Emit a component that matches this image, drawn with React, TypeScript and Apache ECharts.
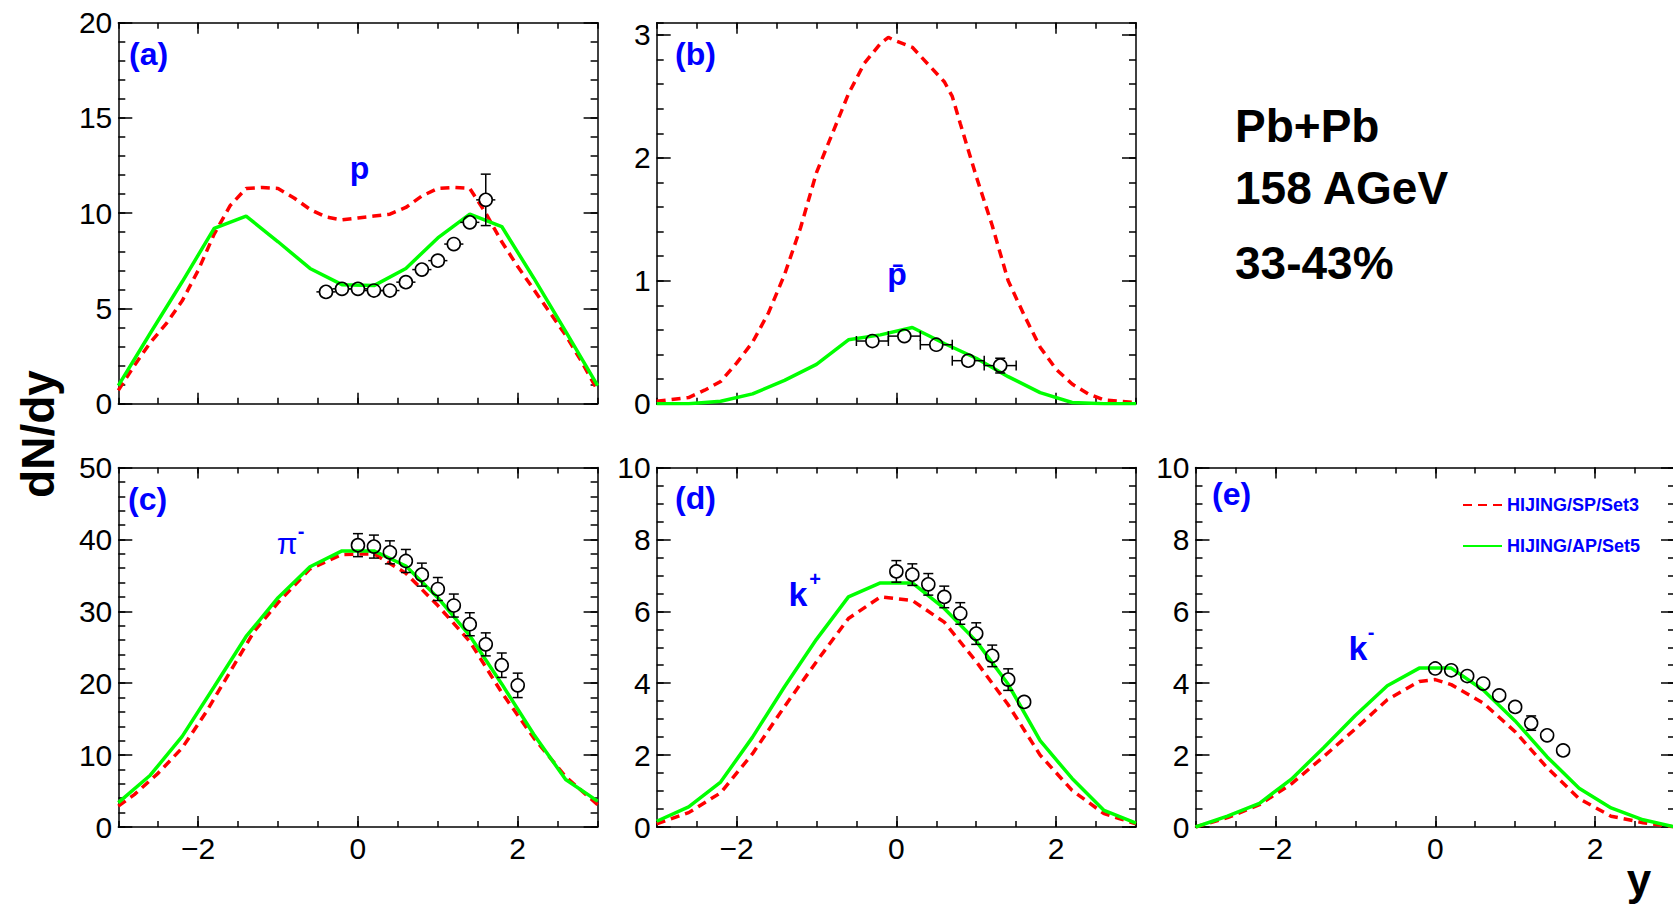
import { useEffect, useRef } from "react";
import * as echarts from "echarts";

type Pt = [number, number];

// ---------------- data ----------------
// rapidity axis tick labels (shared by all panels)
const rapidityTickLabels = [-2, 0, 2];

// (a) protons
const protonYTicks = [0, 5, 10, 15, 20];
const protonSP: Pt[] = [
  [-3, 0.7], [-2.8, 2.0], [-2.6, 3.2], [-2.4, 4.2], [-2.2, 5.4], [-2.0, 7.0], [-1.8, 8.9], [-1.6, 10.4],
  [-1.4, 11.3], [-1.2, 11.35], [-1.0, 11.3], [-0.8, 10.8], [-0.6, 10.2], [-0.4, 9.8], [-0.2, 9.65], [0, 9.75],
  [0.2, 9.85], [0.4, 9.95], [0.6, 10.3], [0.8, 10.9], [1.0, 11.3], [1.2, 11.35], [1.4, 11.3], [1.6, 10.0],
  [1.8, 8.5], [2.0, 7.2], [2.2, 6.0], [2.4, 4.8], [2.6, 3.6], [2.8, 2.2], [3.0, 0.7],
];
const protonAP: Pt[] = [
  [-3, 0.95], [-2.6, 3.7], [-2.2, 6.4], [-1.8, 9.2], [-1.4, 9.85], [-1.0, 8.5], [-0.6, 7.1], [-0.2, 6.25],
  [0.2, 6.2], [0.6, 7.1], [1.0, 8.7], [1.4, 9.95], [1.8, 9.3], [2.2, 6.6], [2.6, 3.8], [3.0, 0.95],
];
const protonRapidity = [-0.4, -0.2, 0, 0.2, 0.4, 0.6, 0.8, 1.0, 1.2, 1.4, 1.6];
const protonDNdy = [5.87, 6.03, 6.03, 5.94, 5.94, 6.38, 7.04, 7.51, 8.38, 9.52, 10.7];
const protonErrY = [0.15, 0.15, 0.15, 0.15, 0.15, 0.15, 0.15, 0.15, 0.2, 0.2, 1.35];
const protonErrX = [0.12, 0.12, 0.12, 0.12, 0.12, 0.12, 0.12, 0.12, 0.12, 0.12, 0.12];

// (b) antiprotons
const antiprotonYTicks = [0, 1, 2, 3];
const antiprotonSP: Pt[] = [
  [-3, 0.02], [-2.6, 0.05], [-2.4, 0.11], [-2.2, 0.18], [-2.0, 0.33], [-1.8, 0.5], [-1.6, 0.74], [-1.4, 1.05],
  [-1.2, 1.43], [-1.0, 1.88], [-0.8, 2.2], [-0.6, 2.52], [-0.4, 2.77], [-0.2, 2.93], [-0.1, 2.98], [0, 2.95],
  [0.2, 2.9], [0.4, 2.76], [0.6, 2.62], [0.7, 2.5], [0.8, 2.28], [1.0, 1.85], [1.2, 1.45], [1.4, 1.0],
  [1.6, 0.72], [1.8, 0.46], [2.0, 0.28], [2.2, 0.16], [2.4, 0.08], [2.6, 0.03], [2.8, 0.02], [3.0, 0.01],
];
const antiprotonAP: Pt[] = [
  [-3, 0], [-2.6, 0.0], [-2.2, 0.02], [-1.8, 0.08], [-1.4, 0.19], [-1.0, 0.32], [-0.6, 0.52], [-0.2, 0.56],
  [0.2, 0.62], [0.6, 0.49], [1.0, 0.37], [1.4, 0.22], [1.8, 0.09], [2.2, 0.01], [2.6, 0], [3.0, 0],
];
const antiprotonRapidity = [-0.3, 0.1, 0.5, 0.9, 1.3];
const antiprotonDNdy = [0.51, 0.55, 0.48, 0.35, 0.31];
const antiprotonErrY = [0.02, 0.02, 0.02, 0.02, 0.06];
const antiprotonErrX = [0.2, 0.2, 0.2, 0.2, 0.2];

// (c) negative pions
const pionYTicks = [0, 10, 20, 30, 40, 50];
const pionSP: Pt[] = [
  [-3, 2.9], [-2.8, 4.5], [-2.5, 7.5], [-2.2, 11.0], [-1.9, 16.0], [-1.6, 21.6], [-1.3, 27.2], [-1.0, 31.2],
  [-0.6, 35.9], [-0.2, 37.9], [0.2, 38.0], [0.6, 35.3], [1.0, 30.8], [1.4, 25.8], [1.8, 18.7], [2.2, 12.4],
  [2.6, 7.0], [3.0, 3.1],
];
const pionAP: Pt[] = [
  [-3, 3.4], [-2.6, 7.2], [-2.2, 12.6], [-1.8, 19.5], [-1.4, 26.5], [-1.0, 31.9], [-0.6, 36.2], [-0.2, 38.4],
  [0.2, 38.4], [0.6, 36.3], [1.0, 31.9], [1.4, 26.6], [1.8, 19.9], [2.2, 12.9], [2.6, 6.6], [3.0, 3.6],
];
const pionRapidity = [0, 0.2, 0.4, 0.6, 0.8, 1.0, 1.2, 1.4, 1.6, 1.8, 2.0];
const pionDNdy = [39.2, 39.0, 38.2, 37.0, 35.1, 33.1, 30.8, 28.2, 25.4, 22.5, 19.7];
const pionErrY = [1.6, 1.6, 1.6, 1.6, 1.6, 1.6, 1.6, 1.6, 1.6, 1.7, 1.7];
const pionErrX = [0, 0, 0, 0, 0, 0, 0, 0, 0, 0, 0];

// (d) positive kaons
const kaonPlusYTicks = [0, 2, 4, 6, 8, 10];
const kaonPlusSP: Pt[] = [
  [-3, 0.09], [-2.6, 0.4], [-2.2, 0.95], [-1.8, 2.04], [-1.4, 3.35], [-1.0, 4.6], [-0.6, 5.8], [-0.2, 6.4],
  [0.2, 6.3], [0.6, 5.7], [1.0, 4.6], [1.4, 3.4], [1.8, 2.0], [2.2, 1.02], [2.6, 0.37], [2.8, 0.23], [3.0, 0.09],
];
const kaonPlusAP: Pt[] = [
  [-3, 0.16], [-2.6, 0.56], [-2.2, 1.25], [-1.8, 2.5], [-1.4, 3.9], [-1.0, 5.22], [-0.6, 6.4], [-0.2, 6.79],
  [0.2, 6.79], [0.6, 6.08], [1.0, 5.17], [1.4, 3.97], [1.8, 2.4], [2.2, 1.35], [2.6, 0.46], [3.0, 0.11],
];
const kaonPlusRapidity = [0, 0.2, 0.4, 0.6, 0.8, 1.0, 1.2, 1.4, 1.6];
const kaonPlusDNdy = [7.11, 7.02, 6.75, 6.4, 5.94, 5.38, 4.76, 4.1, 3.48];
const kaonPlusErrY = [0.3, 0.3, 0.3, 0.3, 0.3, 0.3, 0.3, 0.3, 0.12];
const kaonPlusErrX = [0, 0, 0, 0, 0, 0, 0, 0, 0];

// (e) negative kaons
const kaonMinusYTicks = [0, 2, 4, 6, 8, 10];
const kaonMinusSP: Pt[] = [
  [-3, 0], [-2.6, 0.26], [-2.2, 0.62], [-1.8, 1.2], [-1.4, 1.95], [-1.0, 2.73], [-0.6, 3.54], [-0.2, 4.05],
  [0, 4.1], [0.2, 3.96], [0.6, 3.45], [1.0, 2.65], [1.4, 1.65], [1.8, 0.79], [2.2, 0.3], [2.6, 0.12], [3.0, 0],
];
const kaonMinusAP: Pt[] = [
  [-3, 0], [-2.6, 0.3], [-2.2, 0.66], [-1.8, 1.33], [-1.4, 2.2], [-1.0, 3.1], [-0.6, 3.93], [-0.2, 4.42],
  [0.2, 4.42], [0.6, 3.81], [1.0, 2.95], [1.4, 1.95], [1.8, 1.08], [2.2, 0.53], [2.6, 0.2], [3.0, 0],
];
const kaonMinusRapidity = [0, 0.2, 0.4, 0.6, 0.8, 1.0, 1.2, 1.4, 1.6];
const kaonMinusDNdy = [4.41, 4.36, 4.2, 3.99, 3.66, 3.34, 2.89, 2.55, 2.13];
const kaonMinusErrY = [0.08, 0.08, 0.08, 0.08, 0.08, 0.08, 0.2, 0.08, 0.08];
const kaonMinusErrX = [0, 0, 0, 0, 0, 0, 0, 0, 0];

const seriesNames = ["HIJING/SP/Set3", "HIJING/AP/Set5"];

const panels = [
  { sp: protonSP, ap: protonAP, rap: protonRapidity, val: protonDNdy, ey: protonErrY, ex: protonErrX, yMax: 20, yTicks: protonYTicks, yMinor: 1, xLabels: false },
  { sp: antiprotonSP, ap: antiprotonAP, rap: antiprotonRapidity, val: antiprotonDNdy, ey: antiprotonErrY, ex: antiprotonErrX, yMax: 3.1, yTicks: antiprotonYTicks, yMinor: 0.2, xLabels: false },
  { sp: pionSP, ap: pionAP, rap: pionRapidity, val: pionDNdy, ey: pionErrY, ex: pionErrX, yMax: 50, yTicks: pionYTicks, yMinor: 2, xLabels: true },
  { sp: kaonPlusSP, ap: kaonPlusAP, rap: kaonPlusRapidity, val: kaonPlusDNdy, ey: kaonPlusErrY, ex: kaonPlusErrX, yMax: 10, yTicks: kaonPlusYTicks, yMinor: 0.5, xLabels: true },
  { sp: kaonMinusSP, ap: kaonMinusAP, rap: kaonMinusRapidity, val: kaonMinusDNdy, ey: kaonMinusErrY, ex: kaonMinusErrX, yMax: 10, yTicks: kaonMinusYTicks, yMinor: 0.5, xLabels: true },
];

// ---------------- layout / style ----------------
const gridBoxes = [
  { left: 118.3, top: 22.7, width: 479.3, height: 381 },
  { left: 656.7, top: 22.7, width: 479.3, height: 381 },
  { left: 118.3, top: 467.5, width: 479.3, height: 359.5 },
  { left: 656.7, top: 467.5, width: 479.3, height: 359.5 },
  { left: 1195.5, top: 467.5, width: 479.5, height: 359.5 },
];

const FONT = "'Liberation Sans', Arial, Helvetica, sans-serif";
const BLUE = "#0000ff";
const RED = "#ff0000";
const GREEN = "#00ff00";
const frameLine = { color: "#000", width: 1.5 };
const R_MARK = 6.5;
const CAP = 5;

const fmtMinus = (v: number) => (v < 0 ? "\u2212" + Math.abs(v) : String(v));

function renderErrors(_params: any, api: any) {
  const x = api.value(0);
  const y = api.value(1);
  const ey = api.value(2);
  const ex = api.value(3);
  const c = api.coord([x, y]);
  const style = { stroke: "#000", lineWidth: 1.5, fill: "none" };
  const kids: any[] = [];
  const seg = (x1: number, y1: number, x2: number, y2: number) =>
    kids.push({ type: "line", shape: { x1, y1, x2, y2 }, style });
  if (ey > 0) {
    const t = api.coord([x, y + ey])[1];
    const b = api.coord([x, y - ey])[1];
    if (c[1] - t > R_MARK) {
      seg(c[0], c[1] - R_MARK, c[0], t);
      seg(c[0] - CAP, t, c[0] + CAP, t);
    }
    if (b - c[1] > R_MARK) {
      seg(c[0], c[1] + R_MARK, c[0], b);
      seg(c[0] - CAP, b, c[0] + CAP, b);
    }
  }
  if (ex > 0) {
    const l = api.coord([x - ex, y])[0];
    const r = api.coord([x + ex, y])[0];
    if (c[0] - l > R_MARK) {
      seg(c[0] - R_MARK, c[1], l, c[1]);
      if (c[0] - l > R_MARK + 4) seg(l, c[1] - CAP, l, c[1] + CAP);
    }
    if (r - c[0] > R_MARK) {
      seg(c[0] + R_MARK, c[1], r, c[1]);
      if (r - c[0] > R_MARK + 4) seg(r, c[1] - CAP, r, c[1] + CAP);
    }
  }
  return { type: "group", children: kids };
}

function txt(text: string, x: number, y: number, size: number, opts: any = {}) {
  const align = opts.align || "left";
  return {
    type: "text",
    x,
    y,
    rotation: opts.rotation || 0,
    silent: true,
    z: 100,
    style: {
      text,
      fill: opts.color || BLUE,
      fontSize: size,
      fontWeight: opts.weight || "bold",
      fontFamily: FONT,
      align,
      textAlign: align,
      verticalAlign: "middle",
      textVerticalAlign: "middle",
    },
  };
}

function buildOption() {
  const grid = gridBoxes.map((b) => ({ ...b, show: false, containLabel: false, outerBoundsMode: "none" }));
  const xAxis: any[] = [];
  const yAxis: any[] = [];
  const series: any[] = [];
  const labelFont = { fontSize: 30, color: "#000", fontFamily: FONT };

  panels.forEach((p, i) => {
    const common = { type: "value", gridIndex: i, splitLine: { show: false }, axisPointer: { show: false }, silent: true };
    const xc = { ...common, min: -3, max: 3 };
    const majorX = { show: true, inside: true, length: 11, customValues: rapidityTickLabels, lineStyle: frameLine };
    const minorX = { show: true, inside: true, length: 6, lineStyle: frameLine };
    xAxis.push(
      {
        ...xc, position: "bottom",
        axisLine: { show: true, onZero: false, lineStyle: frameLine },
        axisTick: majorX,
        axisLabel: { show: p.xLabels, customValues: rapidityTickLabels, margin: 6, formatter: fmtMinus, ...labelFont },
      },
      { ...xc, position: "bottom", interval: 0.5, axisLine: { show: false, onZero: false }, axisTick: minorX, axisLabel: { show: false } },
      { ...xc, position: "top", axisLine: { show: true, onZero: false, lineStyle: frameLine }, axisTick: majorX, axisLabel: { show: false } },
      { ...xc, position: "top", interval: 0.5, axisLine: { show: false, onZero: false }, axisTick: minorX, axisLabel: { show: false } },
    );
    const yc = { ...common, min: 0, max: p.yMax };
    const majorY = { show: true, inside: true, length: 14, customValues: p.yTicks, lineStyle: frameLine };
    const minorY = { show: true, inside: true, length: 7, lineStyle: frameLine };
    yAxis.push(
      {
        ...yc, position: "left",
        axisLine: { show: true, onZero: false, lineStyle: frameLine },
        axisTick: majorY,
        axisLabel: { show: true, customValues: p.yTicks, margin: 6, ...labelFont },
      },
      { ...yc, position: "left", interval: p.yMinor, axisLine: { show: false, onZero: false }, axisTick: minorY, axisLabel: { show: false } },
      { ...yc, position: "right", axisLine: { show: true, onZero: false, lineStyle: frameLine }, axisTick: majorY, axisLabel: { show: false } },
      { ...yc, position: "right", interval: p.yMinor, axisLine: { show: false, onZero: false }, axisTick: minorY, axisLabel: { show: false } },
    );
    const ax = { xAxisIndex: 4 * i, yAxisIndex: 4 * i };
    series.push(
      {
        type: "line", name: seriesNames[0], ...ax, data: p.sp, symbol: "none", showSymbol: false, z: 2,
        lineStyle: { color: RED, width: 3.5, type: [9, 6] }, itemStyle: { color: RED },
      },
      {
        type: "line", name: seriesNames[1], ...ax, data: p.ap, symbol: "none", showSymbol: false, z: 3,
        lineStyle: { color: GREEN, width: 3.5, type: "solid" }, itemStyle: { color: GREEN },
      },
      {
        type: "scatter", name: "data" + i, ...ax, z: 5, symbol: "circle", symbolSize: 2 * R_MARK,
        data: p.rap.map((x, k) => [x, p.val[k]]),
        itemStyle: { color: "rgba(255,255,255,0)", borderColor: "#000", borderWidth: 1.6, opacity: 1 },
      },
      {
        type: "custom", name: "err" + i, ...ax, z: 5, renderItem: renderErrors,
        encode: { x: 0, y: 1 },
        data: p.rap.map((x, k) => [x, p.val[k], p.ey[k], p.ex[k]]),
      },
    );
  });

  const graphic = [
    txt("(a)", 129, 54, 32),
    txt("(b)", 675, 54, 32),
    txt("(c)", 128, 499, 32),
    txt("(d)", 675, 498, 32),
    txt("(e)", 1212, 494, 32),
    txt("p", 359.5, 168, 32, { align: "center" }),
    txt("p\u0304", 897, 274, 32, { align: "center" }),
    txt("\u03c0", 287, 543, 30, { align: "center", weight: "normal" }),
    txt("-", 301, 531, 20, { align: "center", weight: "bold" }),
    txt("k", 798, 594, 34, { align: "center" }),
    txt("+", 815, 579, 20, { align: "center" }),
    txt("k", 1358, 648, 34, { align: "center" }),
    txt("-", 1371, 632, 20, { align: "center" }),
    txt("Pb+Pb", 1235, 126, 46, { color: "#000" }),
    txt("158 AGeV", 1235, 188, 46, { color: "#000" }),
    txt("33-43%", 1235, 263, 46, { color: "#000" }),
    txt("dN/dy", 38, 434, 46, { color: "#000", align: "center", rotation: Math.PI / 2 }),
    txt("y", 1639, 879, 44, { color: "#000", align: "center" }),
  ];

  return {
    animation: false,
    backgroundColor: "#fff",
    grid,
    xAxis,
    yAxis,
    series,
    legend: {
      show: true,
      orient: "vertical",
      left: 1462,
      top: 495,
      padding: 0,
      itemGap: 21,
      itemWidth: 39,
      itemHeight: 14,
      selectedMode: false,
      data: seriesNames,
      itemStyle: { opacity: 0, borderWidth: 0 },
      textStyle: { fontSize: 18, fontWeight: "bold", color: BLUE, fontFamily: FONT, lineHeight: 20 },
    },
    graphic,
  };
}

export default function App() {
  const ref = useRef<HTMLDivElement>(null);
  useEffect(() => {
    if (!ref.current) return;
    const chart = echarts.init(ref.current, null, { renderer: "svg", width: 1673, height: 904 });
    chart.setOption(buildOption() as any);
    return () => chart.dispose();
  }, []);
  return (
    <div
      ref={ref}
      style={{ position: "fixed", left: 0, top: 0, width: 1673, height: 904, background: "#fff" }}
    />
  );
}
